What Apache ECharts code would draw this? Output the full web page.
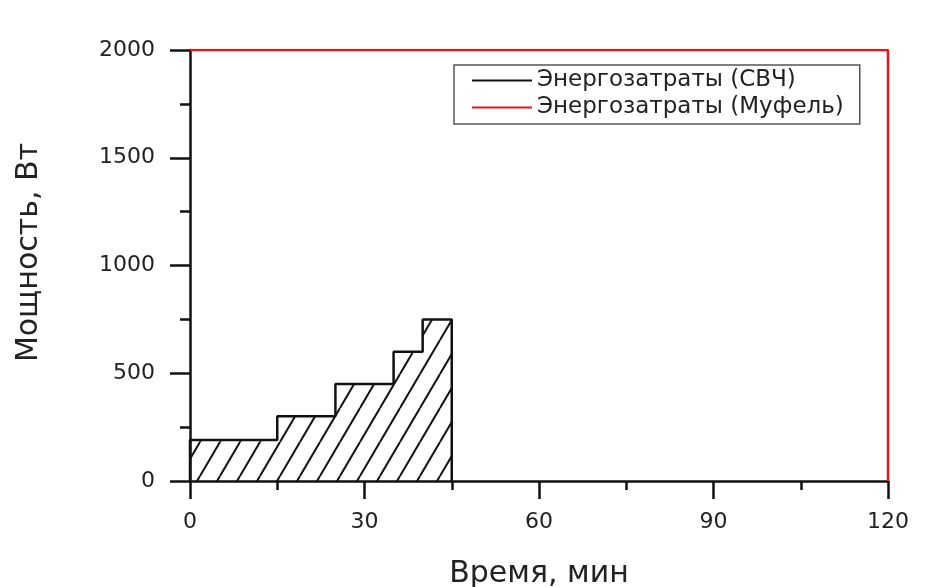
<!DOCTYPE html>
<html>
<head>
<meta charset="utf-8">
<script src="https://cdn.jsdelivr.net/npm/echarts@6/dist/echarts.min.js"></script>
<style>
html, body { margin: 0; padding: 0; background: #fff; }
#chartBox { width: 933px; height: 587px; }
</style>
</head>
<body>
<div id="chartBox"></div>
<script>
// ступенчатый профиль мощности СВЧ
const stepStart = [0, 15, 25, 35, 40];
const stepEnd = 45;
const stepPower = [190, 300, 450, 600, 750];

// муфельная печь
const mufTime = [0, 120, 120];
const mufPower = [2000, 2000, 0];

const xTicks = [0, 30, 60, 90, 120];
const yTicks = [0, 500, 1000, 1500, 2000];

const seriesNames = ['Энергозатраты (СВЧ)', 'Энергозатраты (Муфель)'];

// углы ступенек
const svchData = [[stepStart[0], 0]];
stepStart.forEach((t, i) => {
    const next = i < stepStart.length - 1 ? stepStart[i + 1] : stepEnd;
    svchData.push([t, stepPower[i]]);
    svchData.push([next, stepPower[i]]);
});
svchData.push([stepEnd, 0]);

const mufData = mufTime.map((t, i) => [t, mufPower[i]]);

// штриховка (крутые диагонали)
function hatch() {
    const w = 20, h = 34;
    const c = document.createElement('canvas');
    c.width = w;
    c.height = h;
    const ctx = c.getContext('2d');
    ctx.strokeStyle = '#111';
    ctx.lineWidth = 2;
    ctx.beginPath();
    for (let k = -1; k <= 1; k++) {
        ctx.moveTo(k * w, h);
        ctx.lineTo(k * w + w, 0);
    }
    ctx.stroke();
    return c;
}

const font = 'DejaVu Sans';
const myChart = echarts.init(document.getElementById('chartBox'));
const option = {
    animation: false,
    backgroundColor: '#fff',
    textStyle: { fontFamily: font },
    grid: { left: 190, right: 45, top: 50, bottom: 106, outerBoundsMode: 'none' },
    legend: {
        orient: 'vertical',
        left: 454,
        top: 65,
        padding: [4, 16, 5, 18],
        itemGap: 4,
        itemWidth: 60,
        itemHeight: 2,
        icon: 'rect',
        borderColor: '#555',
        borderWidth: 1.5,
        textStyle: { fontFamily: font, fontSize: 23, color: '#222' },
        data: seriesNames
    },
    xAxis: {
        type: 'value',
        min: xTicks[0],
        max: xTicks[xTicks.length - 1],
        interval: 30,
        name: 'Время, мин',
        nameLocation: 'middle',
        nameGap: 78,
        nameTextStyle: { fontFamily: font, fontSize: 30, color: '#222' },
        axisLine: { show: true, onZero: false, lineStyle: { color: '#111', width: 2.5 } },
        axisTick: { show: true, inside: false, length: 18, lineStyle: { color: '#111', width: 2.5 } },
        minorTick: { show: true, splitNumber: 2, length: 9, lineStyle: { color: '#111', width: 2.5 } },
        axisLabel: { margin: 30, fontSize: 22, color: '#222', fontFamily: font, formatter: v => String(v) },
        splitLine: { show: false }
    },
    yAxis: {
        type: 'value',
        min: yTicks[0],
        max: yTicks[yTicks.length - 1],
        interval: 500,
        name: 'Мощность, Вт',
        nameLocation: 'middle',
        nameRotate: 90,
        nameGap: 146,
        nameTextStyle: { fontFamily: font, fontSize: 30, color: '#222', padding: [0, 0, 0, 26] },
        axisLine: { show: true, onZero: false, lineStyle: { color: '#111', width: 2.5 } },
        axisTick: { show: true, inside: false, length: 20, lineStyle: { color: '#111', width: 2.5 } },
        minorTick: { show: true, splitNumber: 2, length: 10, lineStyle: { color: '#111', width: 2.5 } },
        axisLabel: { margin: 35, fontSize: 22, color: '#222', fontFamily: font, formatter: v => String(v) },
        splitLine: { show: false }
    },
    series: [
        {
            name: seriesNames[0],
            type: 'line',
            symbol: 'none',
            showSymbol: false,
            lineStyle: { color: '#111', width: 2.5 },
            itemStyle: { color: '#111' },
            areaStyle: {
                color: { image: hatch(), repeat: 'repeat' },
                opacity: 1
            },
            data: svchData,
            z: 3
        },
        {
            name: seriesNames[1],
            type: 'line',
            symbol: 'none',
            showSymbol: false,
            lineStyle: { color: '#e8141c', width: 2.5 },
            itemStyle: { color: '#e8141c' },
            data: mufData,
            z: 4
        }
    ]
};
myChart.setOption(option);
</script>
</body>
</html>
